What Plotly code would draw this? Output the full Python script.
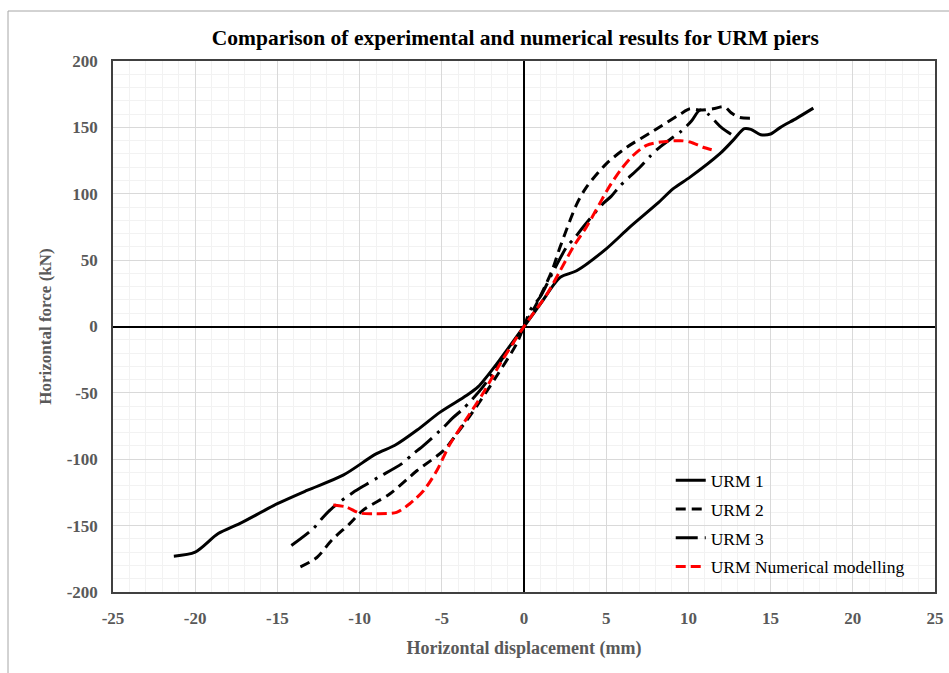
import plotly.graph_objects as go

# ---------------- data ----------------
urm1_x = [-21.3, -20.0, -18.6, -17.3, -15.0, -13.2, -11.0, -9.0, -7.85, -6.5, -5.1, -3.5, -2.8, -1.5, 0.0,
          1.0, 2.2, 3.2, 5.0, 6.45, 8.1, 9.1, 10.1, 11.9, 12.7, 13.4, 13.8, 14.4, 15.0, 15.6, 16.6, 17.6]
urm1_y = [-173, -170, -156, -148.5, -133.5, -123.5, -112, -96, -89.5, -78, -64.5, -52, -45.5, -25.5, 0,
          17, 37, 42, 58.5, 75, 92.5, 104, 112.5, 130, 140, 149, 148.5, 144.5, 145, 150, 157, 164.5]

urm2_x = [-13.6, -12.6, -11.7, -10.6, -9.8, -8.15, -6.5, -4.9, -4.1, -2.9, -1.7, -0.45, 0.0,
          0.8, 1.7, 2.2, 3.2, 3.8, 5.0, 6.25, 7.9, 9.5, 10.1, 10.7, 11.5, 12.2, 12.6, 13.1, 14.1]
urm2_y = [-181, -174, -161, -148.5, -138.5, -126, -108.5, -93.5, -81, -60.5, -38, -13, 0,
          18, 42, 60, 92, 105, 122.5, 135, 147.5, 160, 164, 163, 164, 165.5, 161, 157.5, 157]

urm3_x = [-14.15, -12.8, -12.25, -11.6, -10.4, -9.6, -8.85, -7.45, -6.8, -6.1, -4.9, -4.35, -3.7, -2.5, -1.2, 0.0,
          0.36, 0.97, 1.4, 1.8, 2.6, 3.1, 3.6, 4.8, 5.3, 5.85, 7.05, 7.65, 8.25, 9.6, 10.2, 10.7, 11.2, 11.6, 12.0, 12.7]
urm3_y = [-165, -152, -144, -136, -125, -119, -113.5, -103.5, -96.5, -89.5, -76, -69, -62, -45.5, -22, 0,
          12, 22, 32, 42, 60, 67, 75, 92.5, 98, 106, 120, 128, 135, 147.5, 155, 163, 160, 155, 150, 144]

num_x = [-11.6, -10.8, -10.0, -9.0, -7.75, -6.95, -6.1, -5.3, -4.5, -3.5, -2.5, -1.45, 0.0,
         1.4, 2.2, 3.0, 3.8, 4.6, 5.05, 5.85, 6.65, 7.45, 8.3, 9.5, 10.1, 10.9, 11.6]
num_y = [-134.5, -136, -140.5, -141, -140, -133.5, -123.5, -108.5, -88.5, -69.5, -50.5, -28, 0,
         24.5, 42, 60, 75, 92.5, 102.5, 117.5, 129, 136.5, 139, 140, 139, 135, 132.5]

series_names = ["URM 1", "URM 2", "URM 3", "URM Numerical modelling"]

x_tickvals = [-25, -20, -15, -10, -5, 0, 5, 10, 15, 20, 25]
x_ticktext = ["-25", "-20", "-15", "-10", "-5", "0", "5", "10", "15", "20", "25"]
y_tickvals = [-200, -150, -100, -50, 0, 50, 100, 150, 200]
y_ticktext = ["-200", "-150", "-100", "-50", "0", "50", "100", "150", "200"]

title_text = "Comparison of experimental and numerical results for URM piers"
x_title = "Horizontal displacement (mm)"
y_title = "Horizontal force (kN)"

# ---------------- figure ----------------
FONT = "Liberation Serif, Times New Roman, serif"
fig = go.Figure()

styles = [
    dict(color="#000000", width=3, dash="solid"),
    dict(color="#000000", width=3, dash="10px,6px"),
    dict(color="#000000", width=3, dash="22px,7px,3px,7px"),
    dict(color="#ff0000", width=3, dash="10px,5px"),
]
data = [(urm1_x, urm1_y), (urm2_x, urm2_y), (urm3_x, urm3_y), (num_x, num_y)]

for i, ((xs, ys), name, st) in enumerate(zip(data, series_names, styles)):
    fig.add_trace(go.Scatter(
        x=xs, y=ys, mode="lines", name=name, legendgroup=f"g{i}",
        line=dict(color=st["color"], width=st["width"], dash=st["dash"],
                  shape="spline", smoothing=0.8),
    ))

axis_common = dict(
    showgrid=True, gridcolor="#d9d9d9", gridwidth=1,
    zeroline=True, zerolinecolor="#000000", zerolinewidth=2,
    showline=True, mirror=True, linecolor="#404040", linewidth=1.5,
    ticks="", ticklabelstandoff=10,
    tickfont=dict(family=FONT, size=17, color="#595959", weight="bold"),
)

fig.update_xaxes(
    range=[-25, 25], tickmode="array", tickvals=x_tickvals, ticktext=x_ticktext,
    minor=dict(dtick=1, showgrid=True, gridcolor="#f2f2f2", gridwidth=1),
    title=dict(text=x_title, standoff=14,
               font=dict(family=FONT, size=18, color="#595959", weight="bold")),
    **axis_common,
)
fig.update_yaxes(
    range=[-200, 200], tickmode="array", tickvals=y_tickvals, ticktext=y_ticktext,
    minor=dict(dtick=10, showgrid=True, gridcolor="#f2f2f2", gridwidth=1),
    title=dict(text=y_title, standoff=11,
               font=dict(family=FONT, size=17, color="#595959", weight="bold")),
    **axis_common,
)

fig.update_layout(
    width=949, height=673,
    margin=dict(l=113, r=14, t=61, b=81, autoexpand=False),
    paper_bgcolor="#ffffff", plot_bgcolor="#ffffff",
    title=dict(text=title_text, xref="container", x=0.543, xanchor="center",
               y=1 - 37 / 673, yanchor="middle",
               font=dict(family=FONT, size=21.5, color="#000000", weight="bold")),
    showlegend=True,
    legend=dict(x=0.6785, y=0.244, xanchor="left", yanchor="top",
                bgcolor="rgba(0,0,0,0)", borderwidth=0,
                font=dict(family=FONT, size=17.5, color="#000000"),
                tracegroupgap=3, itemwidth=30),
    shapes=[dict(type="rect", xref="paper", yref="paper",
                 x0=(8 - 113) / 822, x1=1.2, y0=-0.3, y1=(592 - 11) / 531,
                 line=dict(color="#a6a6a6", width=1), layer="below")],
)

fig.write_html("out.html")
